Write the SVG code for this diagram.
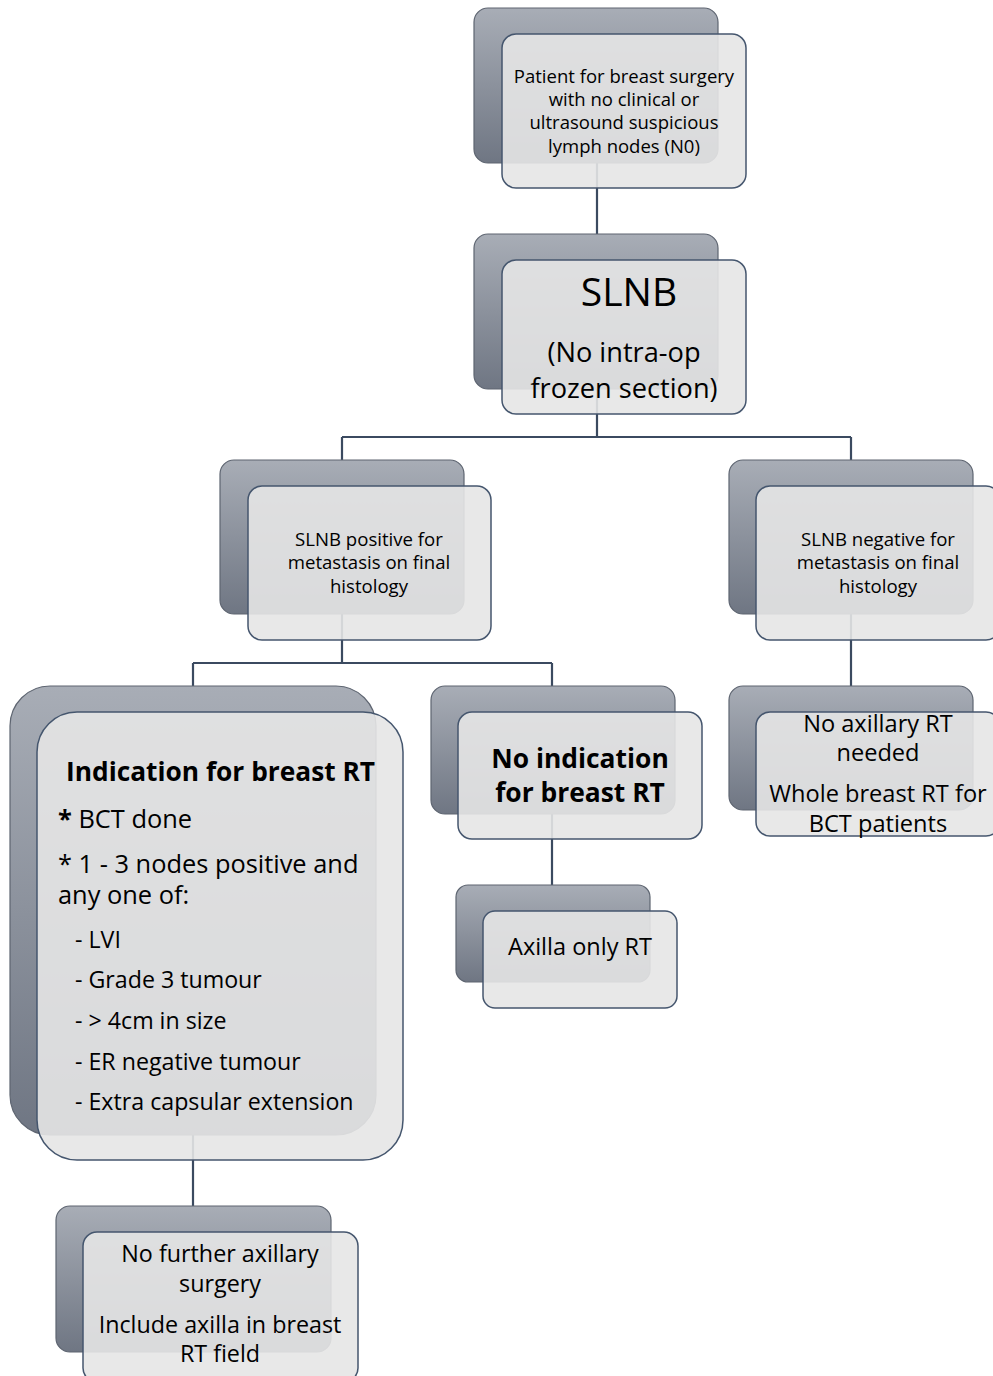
<svg xmlns="http://www.w3.org/2000/svg" width="993" height="1376" viewBox="0 0 993 1376">
<defs>
<linearGradient id="bg" x1="0" y1="0" x2="0" y2="1">
<stop offset="0" stop-color="#a8adb6"/>
<stop offset="1" stop-color="#6f7683"/>
</linearGradient>
<style>
.back{fill:url(#bg);stroke:#5e6571;stroke-width:1.2}
.front{fill:#e5e5e5;fill-opacity:0.9;stroke:#45566e;stroke-width:1.5}
.conn{fill:none;stroke:#3b4a60;stroke-width:2.2}
text{font-family:"Open Sans","Liberation Sans",sans-serif;fill:#000}
.c{text-anchor:middle}
.b{font-weight:bold}
</style>
</defs>
<rect width="993" height="1376" fill="#fff"/>
<g id="connectors">
<path class="conn" d="M597,163 V437 M342,437 H851 M342,437 V486 M851,437 V486"/>
<path class="conn" d="M342,614 V663 M193,663 H552 M193,663 V712 M552,663 V712"/>
<path class="conn" d="M851,614 V712"/>
<path class="conn" d="M552,814 V911"/>
<path class="conn" d="M193,1135 V1232"/>
</g>
<g id="n1">
<rect class="back" x="474" y="8" width="244" height="155" rx="14"/>
<rect class="front" x="502" y="34" width="244" height="154" rx="14"/>
<text class="c" font-size="18.5" x="624"><tspan x="624" y="83">Patient for breast surgery</tspan><tspan x="624" y="106">with no clinical or</tspan><tspan x="624" y="129">ultrasound suspicious</tspan><tspan x="624" y="153">lymph nodes (N0)</tspan></text>
</g>
<g id="n2">
<rect class="back" x="474" y="234" width="244" height="155" rx="14"/>
<rect class="front" x="502" y="260" width="244" height="154" rx="14"/>
<text class="c" font-size="39" x="629" y="306">SLNB</text>
<text class="c" font-size="27.2" x="624" y="362">(No intra-op</text>
<text class="c" font-size="27.2" x="624" y="398">frozen section)</text>
</g>
<g id="n3">
<rect class="back" x="220" y="460" width="244" height="154" rx="14"/>
<rect class="front" x="248" y="486" width="243" height="154" rx="14"/>
<text class="c" font-size="18.6" x="369"><tspan x="369" y="546">SLNB positive for</tspan><tspan x="369" y="569">metastasis on final</tspan><tspan x="369" y="593">histology</tspan></text>
</g>
<g id="n4">
<rect class="back" x="729" y="460" width="244" height="154" rx="14"/>
<rect class="front" x="756" y="486" width="244" height="154" rx="14"/>
<text class="c" font-size="18.6" x="878"><tspan x="878" y="546">SLNB negative for</tspan><tspan x="878" y="569">metastasis on final</tspan><tspan x="878" y="593">histology</tspan></text>
</g>
<g id="n5">
<rect class="back" x="10" y="686" width="366" height="449" rx="40"/>
<rect class="front" x="37" y="712" width="366" height="448" rx="40"/>
<text class="b" font-size="26.3" x="66" y="781">Indication for breast RT</text>
<text font-size="25.4" x="58" y="828"><tspan font-weight="bold">*</tspan> BCT done</text>
<text font-size="25.4" x="58"><tspan x="58" y="873">* 1 - 3 nodes positive and</tspan><tspan x="58" y="904">any one of:</tspan></text>
<text font-size="23.2" x="75"><tspan x="75" y="948">- LVI</tspan><tspan x="75" y="988">- Grade 3 tumour</tspan><tspan x="75" y="1029">- &gt; 4cm in size</tspan><tspan x="75" y="1070">- ER negative tumour</tspan><tspan x="75" y="1110">- Extra capsular extension</tspan></text>
</g>
<g id="n6">
<rect class="back" x="431" y="686" width="244" height="128" rx="14"/>
<rect class="front" x="458" y="712" width="244" height="127" rx="14"/>
<text class="c b" font-size="26.4" x="580"><tspan x="580" y="768">No indication</tspan><tspan x="580" y="802">for breast RT</tspan></text>
</g>
<g id="n7">
<rect class="back" x="456" y="885" width="194" height="97" rx="12"/>
<rect class="front" x="483" y="911" width="194" height="97" rx="12"/>
<text class="c" font-size="23.5" x="580" y="955">Axilla only RT</text>
</g>
<g id="n8">
<rect class="back" x="729" y="686" width="244" height="124" rx="14"/>
<rect class="front" x="756" y="712" width="244" height="124" rx="14"/>
<text class="c" font-size="23.6" x="878"><tspan x="878" y="732">No axillary RT</tspan><tspan x="878" y="761">needed</tspan><tspan x="878" y="802">Whole breast RT for</tspan><tspan x="878" y="832">BCT patients</tspan></text>
</g>
<g id="n9">
<rect class="back" x="56" y="1206" width="275" height="146" rx="14"/>
<rect class="front" x="83" y="1232" width="275" height="150" rx="14"/>
<text class="c" font-size="23.3" x="220"><tspan x="220" y="1262">No further axillary</tspan><tspan x="220" y="1292">surgery</tspan><tspan x="220" y="1333">Include axilla in breast</tspan><tspan x="220" y="1362">RT field</tspan></text>
</g>
</svg>
